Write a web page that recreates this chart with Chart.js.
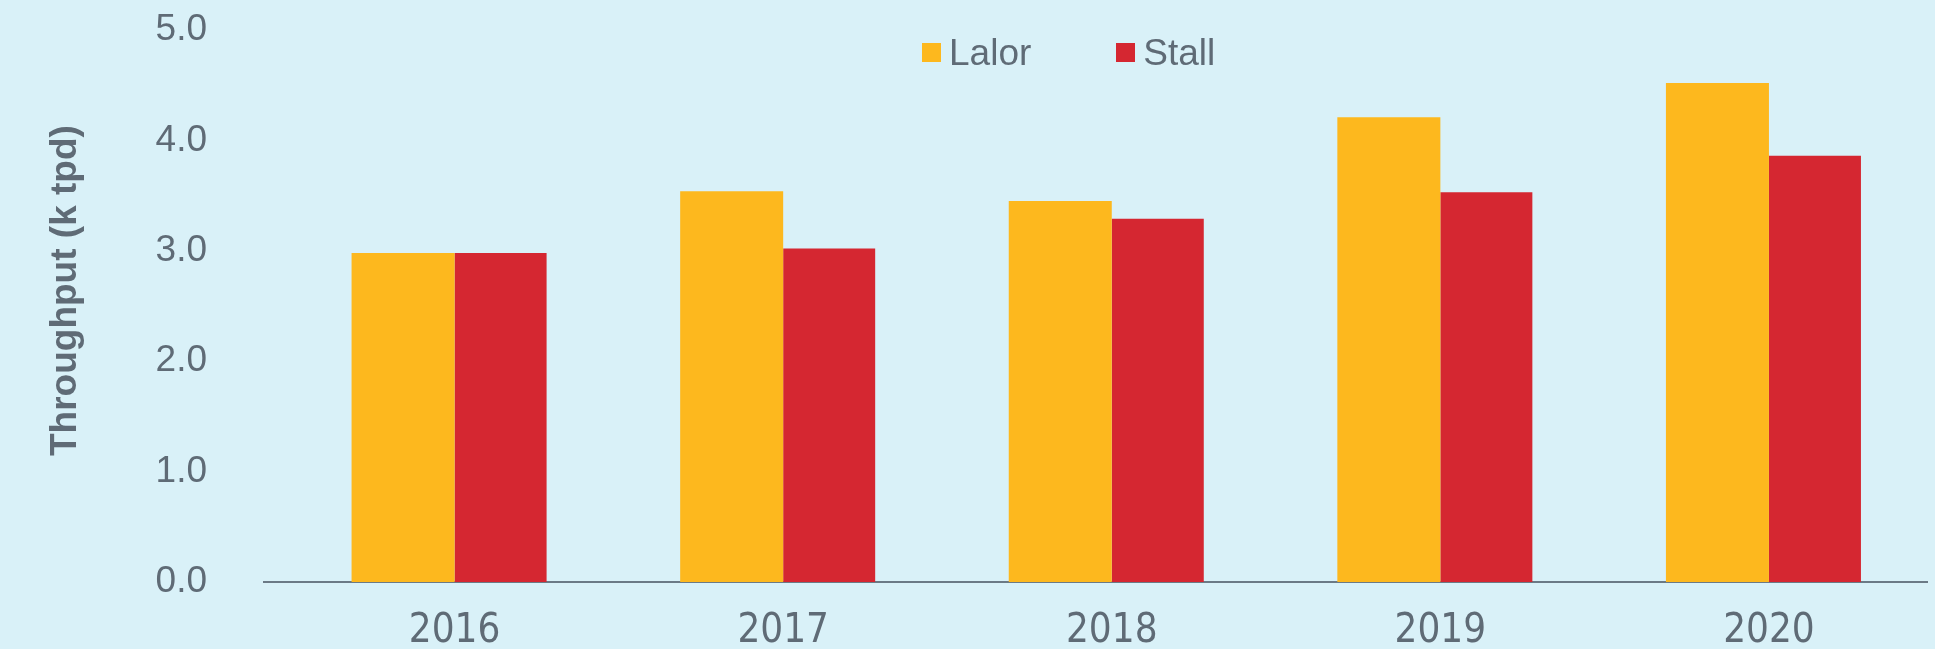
<!DOCTYPE html>
<html>
<head>
<meta charset="utf-8">
<script src="https://cdn.jsdelivr.net/npm/chart.js@4.4.1/dist/chart.umd.min.js"></script>
<style>
  html, body { margin: 0; padding: 0; background: #d9f1f8; }
  #wrap { position: relative; width: 1935px; height: 649px; }
  #legend {
    position: absolute; left: 922px; top: 34px;
    display: flex; align-items: center;
    font: 37px 'Liberation Sans', Arial, sans-serif; line-height: 37px; color: #5f6b76;
  }
  .item { display: flex; align-items: center; }
  .item + .item { margin-left: 85px; }
  .box { width: 19px; height: 19px; margin-right: 8px; }
</style>
</head>
<body>
<div id="wrap">
  <canvas id="chart"></canvas>
  <div id="legend"></div>
</div>
<script>
// Chart data
const years = ['2016', '2017', '2018', '2019', '2020'];
const lalor = [2.98, 3.54, 3.45, 4.21, 4.52];
const stall = [2.98, 3.02, 3.29, 3.53, 3.86];
const seriesNames = ['Lalor', 'Stall'];
const seriesColors = ['#fdb81e', '#d52731'];

const textColor = '#5f6b76';

// bars sit at x = 0..4, axis runs a bit wider on the left like the original
const chart = new Chart(document.getElementById('chart'), {
  type: 'bar',
  data: {
    datasets: [
      {
        label: seriesNames[0],
        data: lalor.map((v, i) => ({ x: i, y: v })),
        backgroundColor: seriesColors[0],
        categoryPercentage: 0.627,
        barPercentage: 1
      },
      {
        label: seriesNames[1],
        data: stall.map((v, i) => ({ x: i, y: v })),
        backgroundColor: seriesColors[1],
        categoryPercentage: 0.56,
        barPercentage: 1
      }
    ]
  },
  options: {
    responsive: true,
    maintainAspectRatio: false,
    animation: false,
    layout: { padding: { top: 30, right: 8, left: 0, bottom: 0 } },
    plugins: {
      legend: { display: false },
      tooltip: { enabled: false }
    },
    scales: {
      x: {
        type: 'linear',
        offset: false,
        min: -0.58,
        max: 4.481,
        // hidden tick marks just to push the labels down
        grid: { display: false, drawTicks: true, tickLength: 27 },
        border: { color: '#6b7a86', width: 2 },
        ticks: {
          stepSize: 1,
          includeBounds: false,
          autoSkip: false,
          maxRotation: 0,
          padding: 3,
          color: textColor,
          font: { family: "'Liberation Sans Narrow', 'DejaVu Sans Condensed', sans-serif", size: 40, lineHeight: 1 },
          callback: (v) => years[v] ?? ''
        },
        afterFit: (scale) => { scale.height = 67; }
      },
      y: {
        min: 0,
        max: 5,
        grid: { display: false, drawTicks: true, tickLength: 54 },
        border: { display: false },
        ticks: {
          stepSize: 1,
          padding: 3,
          color: textColor,
          font: { family: "'Liberation Sans', Arial, sans-serif", size: 37 },
          callback: (v) => v.toFixed(1)
        },
        title: {
          display: true,
          // leading spaces nudge the centred title up a bit
          text: '   Throughput (k tpd)',
          color: textColor,
          font: { family: "'Liberation Sans', Arial, sans-serif", size: 37, weight: 'bold' },
          padding: { top: 44, bottom: 0 }
        },
        afterFit: (scale) => { scale.width = 264; }
      }
    }
  }
});

// simple html legend built from the datasets
const legendEl = document.getElementById('legend');
chart.data.datasets.forEach(ds => {
  const item = document.createElement('div');
  item.className = 'item';
  const box = document.createElement('span');
  box.className = 'box';
  box.style.background = ds.backgroundColor;
  const txt = document.createElement('span');
  txt.textContent = ds.label;
  item.appendChild(box);
  item.appendChild(txt);
  legendEl.appendChild(item);
});
</script>
</body>
</html>
